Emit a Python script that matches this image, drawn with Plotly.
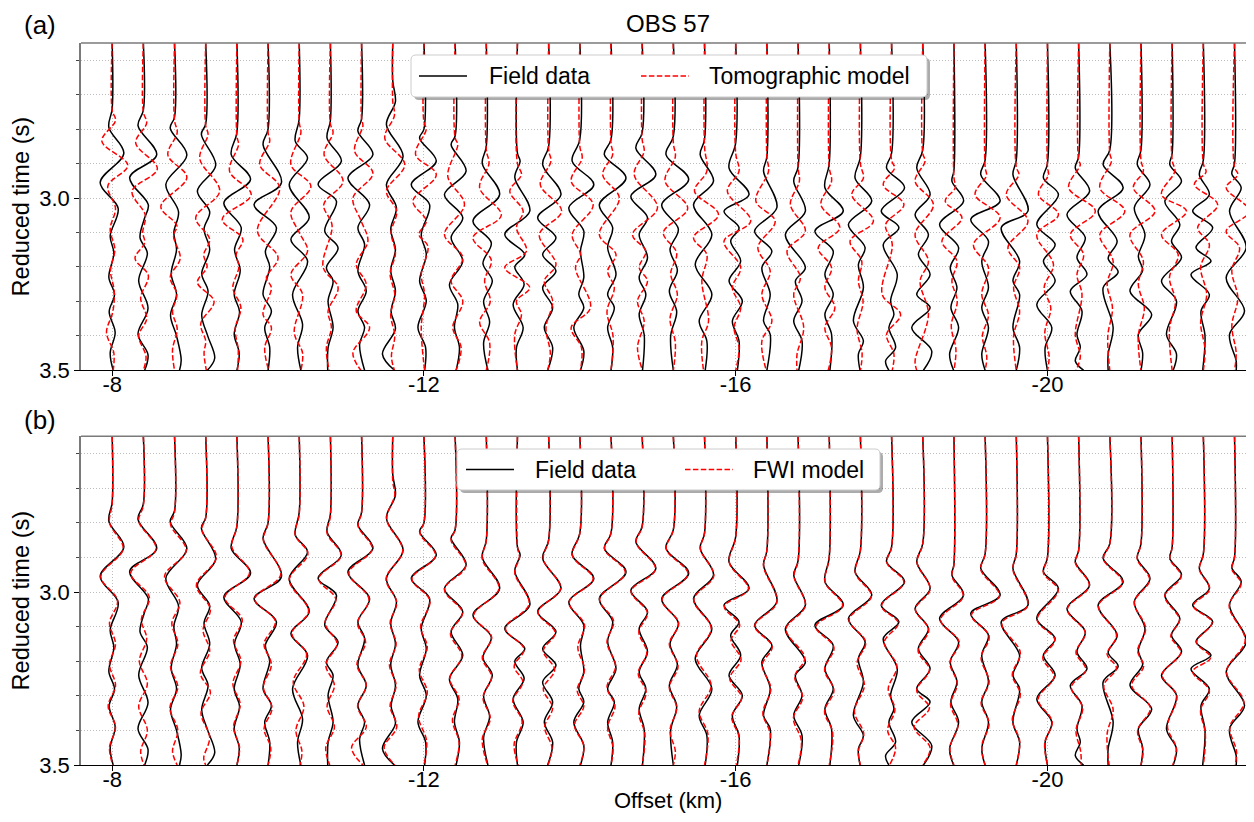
import plotly.graph_objects as go

# ---------------- data ----------------
OFFSETS_KM = [-8.0, -8.4, -8.8, -9.2, -9.6, -10.0, -10.4, -10.8, -11.2, -11.6,
              -12.0, -12.4, -12.8, -13.2, -13.6, -14.0, -14.4, -14.8, -15.2, -15.6,
              -16.0, -16.4, -16.8, -17.2, -17.6, -18.0, -18.4, -18.8, -19.2, -19.6,
              -20.0, -20.4, -20.8, -21.2, -21.6, -22.0, -22.4]

X_TICKS = [-8, -12, -16, -20]
X_TICK_LABELS = ["-8", "-12", "-16", "-20"]
Y_TICKS = [3.0, 3.5]
Y_TICK_LABELS = ["3.0", "3.5"]

LEGEND_A = ["Field data", "Tomographic model"]
LEGEND_B = ["Field data", "FWI model"]

# picked waveform extrema per trace: [reduced time (s), amplitude (arb. units)]
FIELD = [
 [[2.74,0],[2.795,-10],[2.87,35],[2.955,-36],[3.03,18],[3.11,-6],[3.16,5],[3.23,-10],[3.28,7],[3.33,-9],[3.39,9],[3.45,-6],[3.5,3]],
 [[2.745,0],[2.79,-16],[2.875,40],[2.94,-41],[3.02,15],[3.06,3],[3.115,-10],[3.16,12],[3.24,-14],[3.32,14],[3.395,-16],[3.455,14],[3.5,4]],
 [[2.765,0],[2.797,-13],[2.875,37],[2.96,-26],[3.04,12],[3.1,-2],[3.15,6],[3.22,-10],[3.28,6],[3.34,-12],[3.4,6],[3.47,20],[3.5,15]],
 [[2.785,0],[2.815,-13],[2.905,30],[2.98,-25],[3.04,12],[3.09,-5],[3.15,12],[3.22,-12],[3.27,7],[3.34,-12],[3.4,6],[3.465,27],[3.5,5]],
 [[2.81,0],[2.874,-17],[2.946,41],[3.014,-39],[3.086,13],[3.15,-7],[3.21,10],[3.28,-8],[3.33,8],[3.395,-8],[3.45,7],[3.5,0]],
 [[2.8,0],[2.845,-15],[2.956,40],[3.019,-42],[3.086,25],[3.154,-8],[3.2,5],[3.28,-15],[3.328,10],[3.376,-10],[3.434,5],[3.5,0]],
 [[2.77,0],[2.835,-12],[2.884,25],[2.961,-30],[3.057,30],[3.12,-25],[3.183,25],[3.28,-20],[3.367,10],[3.434,-5],[3.5,5]],
 [[2.775,0],[2.826,-10],[2.893,33],[2.96,-37],[3.009,18],[3.096,-17],[3.145,23],[3.202,-12],[3.241,8],[3.299,-7],[3.376,8],[3.434,-7],[3.5,-8]],
 [[2.77,0],[2.806,-11],[2.874,34],[2.942,-41],[3.019,24],[3.086,-11],[3.135,9],[3.212,-11],[3.27,14],[3.328,-11],[3.376,9],[3.425,-6],[3.5,9]],
 [[2.66,0],[2.72,8],[2.787,-19],[2.879,31],[2.961,-19],[3.028,11],[3.09,-6],[3.15,8],[3.21,-6],[3.27,8],[3.33,-5],[3.38,8],[3.453,-31],[3.5,5]],
 [[2.8,0],[2.826,-13],[2.893,37],[2.961,-38],[3.019,17],[3.106,-8],[3.164,7],[3.241,-13],[3.299,7],[3.376,-18],[3.434,5],[3.5,2]],
 [[2.82,0],[2.845,-12],[2.922,33],[2.99,-32],[3.057,23],[3.115,-12],[3.183,23],[3.251,-17],[3.309,8],[3.376,-2],[3.434,13],[3.5,3]],
 [[2.85,0],[2.9,-12],[2.99,40],[3.067,-40],[3.13,15],[3.19,-10],[3.24,18],[3.3,-8],[3.36,10],[3.42,-8],[3.5,5]],
 [[2.87,0],[2.893,8],[2.94,-8],[3.038,37],[3.106,-38],[3.164,22],[3.2,-8],[3.25,20],[3.309,-13],[3.376,17],[3.434,-3],[3.5,0]],
 [[2.85,0],[2.903,-18],[2.99,37],[3.057,-33],[3.115,22],[3.164,-18],[3.212,22],[3.26,-18],[3.318,12],[3.376,-13],[3.434,12],[3.5,-3]],
 [[2.83,0],[2.893,-23],[2.961,42],[3.028,-33],[3.096,12],[3.154,2],[3.231,12],[3.28,-3],[3.318,12],[3.376,-18],[3.444,12],[3.5,2]],
 [[2.83,0],[2.874,-20],[2.942,45],[3.019,-35],[3.086,5],[3.144,-10],[3.222,15],[3.28,-10],[3.318,10],[3.376,-10],[3.434,5],[3.5,0]],
 [[2.81,0],[2.855,-19],[2.932,41],[2.995,-34],[3.057,16],[3.106,-9],[3.173,16],[3.231,-9],[3.28,11],[3.338,-9],[3.396,6],[3.5,1]],
 [[2.82,0],[2.874,-22],[2.946,46],[3.02,-35],[3.09,15],[3.15,-10],[3.21,12],[3.27,-12],[3.33,10],[3.4,-8],[3.5,0]],
 [[2.83,0],[2.874,-13],[2.951,27],[3.019,-33],[3.106,22],[3.193,-28],[3.28,22],[3.357,-16],[3.415,7],[3.5,2]],
 [[2.84,0],[2.913,-20],[2.99,40],[3.038,-35],[3.086,10],[3.125,-15],[3.183,15],[3.241,-20],[3.299,20],[3.357,-10],[3.415,10],[3.5,5]],
 [[2.88,0],[2.922,-10],[3.028,30],[3.096,-37],[3.154,15],[3.202,-15],[3.28,10],[3.357,-10],[3.396,10],[3.5,0]],
 [[2.91,0],[2.951,-13],[3.038,22],[3.106,-38],[3.202,22],[3.241,-8],[3.299,12],[3.357,-13],[3.415,12],[3.5,2]],
 [[2.9,0],[2.97,-13],[3.038,42],[3.096,-43],[3.154,12],[3.222,-13],[3.28,12],[3.338,-13],[3.396,7],[3.5,2]],
 [[2.88,0],[2.942,-16],[3.009,34],[3.077,-36],[3.144,14],[3.193,-6],[3.26,9],[3.357,-21],[3.415,9],[3.453,-6],[3.5,-1]],
 [[2.87,0],[2.913,-15],[2.97,39],[3.038,-31],[3.086,22],[3.135,-25],[3.222,17],[3.299,-3],[3.338,7],[3.376,-8],[3.434,12],[3.473,-18],[3.5,-8]],
 [[2.86,0],[2.913,-18],[2.99,22],[3.048,-23],[3.106,17],[3.164,-13],[3.222,22],[3.28,-18],[3.318,22],[3.376,-33],[3.444,27],[3.5,2]],
 [[2.92,0],[2.951,-6],[3.009,29],[3.077,-43],[3.144,14],[3.202,-11],[3.26,9],[3.318,-9],[3.376,14],[3.453,-13],[3.5,-1]],
 [[2.89,0],[2.932,-13],[3.009,45],[3.062,-43],[3.125,10],[3.183,-10],[3.26,10],[3.318,-10],[3.376,10],[3.453,-10],[3.5,0]],
 [[2.89,0],[2.932,-10],[3.038,35],[3.086,-45],[3.183,10],[3.241,-10],[3.28,10],[3.376,-10],[3.434,10],[3.5,0]],
 [[2.9,0],[2.942,-12],[2.99,33],[3.077,-32],[3.135,23],[3.183,-12],[3.241,23],[3.309,-32],[3.376,13],[3.434,-7],[3.5,0]],
 [[2.88,0],[2.913,-10],[2.98,33],[3.048,-35],[3.115,20],[3.173,-5],[3.222,25],[3.27,-25],[3.328,10],[3.396,-5],[3.434,5],[3.473,-10],[3.5,15]],
 [[2.86,0],[2.903,-20],[2.97,40],[3.038,-35],[3.125,22],[3.175,-5],[3.215,25],[3.26,-20],[3.376,10],[3.453,-5],[3.5,-5]],
 [[2.86,0],[2.903,-11],[2.961,27],[3.028,-20],[3.106,12],[3.17,-8],[3.21,5],[3.27,-33],[3.338,32],[3.396,-8],[3.45,5],[3.5,0]],
 [[2.87,0],[2.903,-7],[2.951,28],[3.009,-22],[3.077,23],[3.125,-2],[3.173,28],[3.241,-32],[3.299,13],[3.396,-17],[3.453,13],[3.5,3]],
 [[2.89,0],[2.932,-12],[2.99,18],[3.038,-32],[3.086,28],[3.144,-22],[3.183,23],[3.222,-37],[3.28,18],[3.328,-7],[3.4,5],[3.5,-2]],
 [[2.9,0],[2.93,-8],[2.97,20],[3.038,-15],[3.144,35],[3.231,-25],[3.328,30],[3.396,-15],[3.473,5],[3.5,5]],
]

TOMO = [
 [[2.745,0],[2.775,10],[2.835,-31],[2.905,47],[2.965,-13],[3.03,10],[3.09,-6],[3.15,8],[3.21,-5],[3.27,6],[3.33,2],[3.39,-17],[3.45,5],[3.5,3]],
 [[2.75,0],[2.782,10],[2.84,-23],[2.915,42],[2.98,-34],[3.05,6],[3.1,-2],[3.13,4],[3.175,-25],[3.225,15],[3.29,-8],[3.35,10],[3.4,-14],[3.46,8],[3.5,0]],
 [[2.775,0],[2.81,8],[2.875,-20],[2.94,37],[3.025,-41],[3.08,7],[3.11,-3],[3.175,17],[3.23,-13],[3.28,7],[3.33,-6],[3.38,8],[3.44,-6],[3.5,0]],
 [[2.79,0],[2.815,7],[2.885,-18],[2.98,42],[3.057,-30],[3.12,12],[3.165,-6],[3.2,4],[3.245,-25],[3.3,25],[3.365,-15],[3.415,0],[3.45,-5],[3.5,2]],
 [[2.82,0],[2.845,5],[2.922,-22],[2.99,43],[3.062,-44],[3.12,18],[3.164,-2],[3.2,6],[3.26,-12],[3.318,12],[3.38,-5],[3.44,4],[3.5,2]],
 [[2.81,0],[2.835,5],[2.903,-25],[2.97,35],[3.096,-32],[3.173,30],[3.231,-5],[3.26,10],[3.338,-15],[3.376,10],[3.434,-10],[3.5,2]],
 [[2.78,0],[2.81,5],[2.903,-25],[2.966,35],[3.04,-25],[3.1,0],[3.154,25],[3.222,-25],[3.28,10],[3.39,-15],[3.45,10],[3.5,5]],
 [[2.785,0],[2.81,8],[2.874,-19],[2.951,38],[3.019,-20],[3.08,5],[3.2,-22],[3.26,23],[3.328,-7],[3.376,3],[3.434,-12],[3.5,-4]],
 [[2.77,0],[2.79,4],[2.864,-21],[2.928,34],[3.0,-26],[3.065,-2],[3.125,19],[3.193,-16],[3.251,14],[3.328,-16],[3.376,24],[3.449,-26],[3.5,-2]],
 [[2.72,0],[2.76,5],[2.826,-24],[2.903,36],[2.98,-19],[3.038,12],[3.1,-5],[3.16,8],[3.22,-8],[3.28,6],[3.34,-6],[3.4,6],[3.46,-4],[3.5,5]],
 [[2.78,0],[2.8,7],[2.874,-25],[2.932,37],[3.009,-33],[3.067,7],[3.106,-15],[3.14,12],[3.222,-8],[3.28,2],[3.376,-8],[3.5,2]],
 [[2.825,0],[2.845,8],[2.937,-22],[3.019,28],[3.106,-32],[3.173,23],[3.241,-12],[3.299,23],[3.376,-7],[3.434,18],[3.5,3]],
 [[2.86,0],[2.9,8],[2.97,-20],[3.05,45],[3.115,-40],[3.18,15],[3.24,-5],[3.3,12],[3.36,-20],[3.42,10],[3.5,0]],
 [[2.9,0],[2.932,12],[2.98,-23],[3.038,17],[3.086,-3],[3.154,27],[3.202,-38],[3.26,37],[3.299,-3],[3.338,12],[3.396,-8],[3.5,0]],
 [[2.86,0],[2.893,7],[2.961,-25],[3.038,39],[3.106,-28],[3.193,22],[3.241,-13],[3.299,12],[3.376,-8],[3.45,5],[3.5,-3]],
 [[2.85,0],[2.884,7],[2.951,-26],[3.019,40],[3.106,-23],[3.164,2],[3.202,-13],[3.318,32],[3.376,-26],[3.434,5],[3.5,2]],
 [[2.84,0],[2.874,5],[2.932,-25],[3.0,25],[3.106,-35],[3.164,15],[3.212,-10],[3.26,10],[3.33,-12],[3.4,6],[3.5,0]],
 [[2.83,0],[2.864,6],[2.932,-24],[3.028,46],[3.106,-29],[3.154,11],[3.202,-9],[3.241,16],[3.299,-14],[3.357,6],[3.434,-14],[3.5,1]],
 [[2.84,0],[2.88,6],[2.95,-25],[3.03,43],[3.1,-30],[3.16,10],[3.22,-8],[3.28,12],[3.35,-10],[3.42,6],[3.5,0]],
 [[2.85,0],[2.922,7],[2.98,-30],[3.048,42],[3.115,-33],[3.164,7],[3.241,-8],[3.357,12],[3.415,-8],[3.5,-3]],
 [[2.87,0],[2.922,10],[2.98,-25],[3.067,45],[3.125,-35],[3.202,15],[3.26,-10],[3.318,15],[3.376,-5],[3.434,10],[3.5,0]],
 [[2.88,0],[2.922,5],[3.009,-33],[3.067,25],[3.144,-27],[3.212,10],[3.28,-15],[3.357,15],[3.415,-15],[3.5,-2]],
 [[2.91,0],[2.951,4],[3.019,-23],[3.096,22],[3.154,-33],[3.231,7],[3.28,-13],[3.376,17],[3.453,-3],[3.5,-3]],
 [[2.91,0],[2.951,7],[3.019,-25],[3.086,32],[3.144,-33],[3.202,7],[3.26,-13],[3.318,17],[3.376,-13],[3.434,7],[3.5,-3]],
 [[2.9,0],[2.942,9],[2.99,-26],[3.067,39],[3.125,-31],[3.183,4],[3.241,-6],[3.3,8],[3.38,-10],[3.45,5],[3.5,0]],
 [[2.89,0],[2.913,9],[2.961,-25],[3.019,37],[3.077,-18],[3.135,2],[3.28,-28],[3.338,27],[3.396,-15],[3.453,7],[3.5,2]],
 [[2.87,0],[2.893,7],[2.951,-23],[3.019,32],[3.106,-23],[3.183,17],[3.241,-8],[3.338,17],[3.473,-23],[3.5,-18]],
 [[2.94,0],[2.97,4],[3.009,-26],[3.057,24],[3.125,-36],[3.183,9],[3.241,-6],[3.3,10],[3.37,-8],[3.44,6],[3.5,0]],
 [[2.91,0],[2.935,4],[2.99,-30],[3.057,45],[3.135,-35],[3.202,10],[3.28,-10],[3.34,10],[3.4,-8],[3.46,5],[3.5,0]],
 [[2.91,0],[2.932,8],[2.99,-30],[3.067,35],[3.144,-25],[3.202,10],[3.26,-8],[3.33,10],[3.4,-8],[3.5,0]],
 [[2.91,0],[2.932,3],[2.99,-27],[3.048,33],[3.106,-32],[3.193,18],[3.26,-10],[3.32,10],[3.39,-8],[3.46,5],[3.5,0]],
 [[2.89,0],[2.903,5],[2.97,-30],[3.038,50],[3.106,-25],[3.164,15],[3.222,-5],[3.28,10],[3.396,-10],[3.46,5],[3.5,-8]],
 [[2.87,0],[2.893,5],[2.97,-30],[3.038,45],[3.106,-30],[3.183,10],[3.25,-8],[3.32,8],[3.4,-6],[3.5,0]],
 [[2.89,0],[2.922,7],[2.97,-23],[3.038,42],[3.106,-33],[3.183,7],[3.25,-8],[3.32,10],[3.4,-8],[3.5,0]],
 [[2.89,0],[2.922,8],[2.99,-32],[3.038,43],[3.106,-32],[3.164,18],[3.23,-8],[3.3,10],[3.38,-8],[3.5,0]],
 [[2.9,0],[2.925,8],[2.96,-27],[3.019,43],[3.086,-17],[3.135,18],[3.2,-8],[3.28,10],[3.36,-8],[3.44,5],[3.5,0]],
 [[2.91,0],[2.932,10],[2.97,-25],[3.038,45],[3.096,-25],[3.144,15],[3.21,-8],[3.29,10],[3.37,-8],[3.45,5],[3.5,0]],
]

FWI = [
 [[2.745,0],[2.8,-8],[2.875,33],[2.955,-34],[3.025,16],[3.09,-8],[3.15,10],[3.21,-8],[3.27,10],[3.33,-12],[3.39,10],[3.45,-8],[3.5,2]],
 [[2.75,0],[2.795,-14],[2.875,38],[2.945,-38],[3.015,18],[3.08,-6],[3.135,10],[3.2,-12],[3.265,12],[3.33,-14],[3.4,12],[3.46,-8],[3.5,2]],
 [[2.77,0],[2.805,-12],[2.88,35],[2.955,-30],[3.03,16],[3.09,-8],[3.15,10],[3.215,-12],[3.275,10],[3.335,-14],[3.4,10],[3.46,-6],[3.5,8]],
 [[2.785,0],[2.82,-12],[2.9,32],[2.98,-28],[3.05,14],[3.11,-8],[3.17,12],[3.235,-16],[3.29,14],[3.35,-14],[3.42,12],[3.48,-6],[3.5,0]],
 [[2.81,0],[2.87,-15],[2.945,38],[3.015,-36],[3.08,16],[3.14,-10],[3.2,12],[3.265,-12],[3.325,10],[3.39,-10],[3.45,8],[3.5,0]],
 [[2.8,0],[2.85,-14],[2.95,38],[3.02,-40],[3.085,22],[3.15,-12],[3.21,10],[3.275,-14],[3.335,12],[3.395,-12],[3.45,8],[3.5,0]],
 [[2.775,0],[2.835,-12],[2.89,26],[2.965,-30],[3.055,28],[3.12,-22],[3.18,22],[3.26,-18],[3.33,14],[3.4,-10],[3.46,8],[3.5,2]],
 [[2.78,0],[2.83,-10],[2.895,32],[2.962,-35],[3.02,16],[3.09,-16],[3.15,20],[3.21,-14],[3.27,12],[3.33,-10],[3.39,12],[3.45,-14],[3.5,-2]],
 [[2.77,0],[2.81,-10],[2.876,32],[2.945,-38],[3.02,22],[3.09,-12],[3.145,12],[3.21,-14],[3.27,14],[3.33,-12],[3.39,14],[3.45,-30],[3.5,4]],
 [[2.68,0],[2.72,6],[2.79,-18],[2.88,30],[2.962,-20],[3.03,12],[3.09,-8],[3.15,10],[3.21,-10],[3.27,10],[3.33,-8],[3.39,12],[3.45,-26],[3.5,6]],
 [[2.8,0],[2.83,-12],[2.895,35],[2.962,-36],[3.025,18],[3.1,-10],[3.16,10],[3.225,-14],[3.29,10],[3.36,-16],[3.43,8],[3.5,0]],
 [[2.82,0],[2.85,-12],[2.925,32],[2.993,-32],[3.06,22],[3.12,-14],[3.185,20],[3.25,-16],[3.31,12],[3.37,-8],[3.435,12],[3.5,0]],
 [[2.85,0],[2.905,-12],[2.99,38],[3.068,-38],[3.13,16],[3.19,-12],[3.245,16],[3.305,-10],[3.365,12],[3.425,-12],[3.5,4]],
 [[2.87,0],[2.9,6],[2.945,-8],[3.035,35],[3.105,-36],[3.165,20],[3.215,-10],[3.26,16],[3.315,-14],[3.375,14],[3.44,-10],[3.5,2]],
 [[2.85,0],[2.905,-16],[2.99,36],[3.058,-32],[3.118,20],[3.17,-16],[3.225,18],[3.28,-16],[3.335,12],[3.39,-12],[3.45,10],[3.5,-2]],
 [[2.83,0],[2.895,-22],[2.962,40],[3.03,-32],[3.095,14],[3.16,-6],[3.225,14],[3.285,-8],[3.33,12],[3.385,-16],[3.445,12],[3.5,0]],
 [[2.83,0],[2.876,-19],[2.944,43],[3.02,-34],[3.085,8],[3.145,-12],[3.215,14],[3.275,-12],[3.33,12],[3.39,-10],[3.45,6],[3.5,0]],
 [[2.81,0],[2.857,-18],[2.934,40],[2.998,-33],[3.06,16],[3.115,-10],[3.175,14],[3.235,-12],[3.29,12],[3.35,-10],[3.41,8],[3.5,0]],
 [[2.82,0],[2.876,-21],[2.948,44],[3.022,-34],[3.09,16],[3.15,-12],[3.215,14],[3.275,-12],[3.335,10],[3.4,-10],[3.46,6],[3.5,0]],
 [[2.83,0],[2.876,-12],[2.953,28],[3.022,-32],[3.105,20],[3.185,-24],[3.27,20],[3.345,-16],[3.41,10],[3.5,0]],
 [[2.84,0],[2.915,-19],[2.992,38],[3.042,-34],[3.095,12],[3.14,-14],[3.195,16],[3.25,-18],[3.305,18],[3.36,-12],[3.42,10],[3.5,2]],
 [[2.88,0],[2.925,-10],[3.03,30],[3.098,-36],[3.158,16],[3.21,-14],[3.28,12],[3.35,-12],[3.41,10],[3.5,0]],
 [[2.91,0],[2.955,-12],[3.04,22],[3.108,-36],[3.19,20],[3.245,-10],[3.305,14],[3.365,-14],[3.43,10],[3.5,0]],
 [[2.9,0],[2.972,-12],[3.04,40],[3.1,-40],[3.16,14],[3.225,-14],[3.285,14],[3.345,-14],[3.405,10],[3.5,0]],
 [[2.88,0],[2.945,-15],[3.012,33],[3.08,-34],[3.145,16],[3.205,-10],[3.27,12],[3.345,-18],[3.41,10],[3.46,-6],[3.5,0]],
 [[2.87,0],[2.915,-14],[2.972,37],[3.04,-30],[3.09,20],[3.145,-22],[3.215,16],[3.28,-10],[3.34,10],[3.4,-12],[3.45,12],[3.5,-6]],
 [[2.86,0],[2.915,-17],[2.992,22],[3.05,-22],[3.11,18],[3.17,-14],[3.225,20],[3.285,-18],[3.335,20],[3.39,-26],[3.45,22],[3.5,0]],
 [[2.92,0],[2.955,-6],[3.012,28],[3.08,-40],[3.145,16],[3.205,-12],[3.265,10],[3.325,-10],[3.385,12],[3.45,-12],[3.5,0]],
 [[2.89,0],[2.935,-13],[3.012,43],[3.066,-41],[3.128,12],[3.19,-12],[3.26,12],[3.32,-12],[3.38,12],[3.445,-10],[3.5,0]],
 [[2.89,0],[2.935,-10],[3.04,34],[3.09,-43],[3.175,12],[3.24,-12],[3.295,12],[3.37,-12],[3.43,10],[3.5,0]],
 [[2.9,0],[2.945,-12],[2.995,32],[3.08,-31],[3.138,22],[3.19,-14],[3.245,20],[3.31,-28],[3.375,14],[3.435,-8],[3.5,0]],
 [[2.88,0],[2.915,-10],[2.982,32],[3.05,-34],[3.118,20],[3.175,-8],[3.225,22],[3.275,-22],[3.335,12],[3.4,-8],[3.46,6],[3.5,8]],
 [[2.86,0],[2.905,-19],[2.973,38],[3.04,-34],[3.125,20],[3.18,-8],[3.22,20],[3.27,-18],[3.34,10],[3.41,-8],[3.5,-2]],
 [[2.86,0],[2.905,-11],[2.965,26],[3.03,-20],[3.105,14],[3.17,-10],[3.215,8],[3.27,-28],[3.335,28],[3.4,-10],[3.46,6],[3.5,0]],
 [[2.87,0],[2.905,-7],[2.955,27],[3.012,-22],[3.08,22],[3.128,-4],[3.175,26],[3.24,-30],[3.3,14],[3.39,-14],[3.45,12],[3.5,2]],
 [[2.89,0],[2.935,-12],[2.992,19],[3.04,-30],[3.088,26],[3.145,-20],[3.19,22],[3.23,-32],[3.285,18],[3.34,-8],[3.41,6],[3.5,0]],
 [[2.9,0],[2.935,-8],[2.975,20],[3.04,-16],[3.14,32],[3.23,-24],[3.32,28],[3.39,-14],[3.46,6],[3.5,2]],
]

T_START = 2.55           # top of record window (s)
AMP_TO_KM = 1.0 / 234.0  # amplitude unit -> offset deflection (km)

FONT = "Liberation Sans, Arial, Helvetica, sans-serif"

# geometry: the page body adds an 8 px offset, so the figure is 8 px smaller
OFF = 8
W, H = 1254 - OFF, 822 - OFF
ML, MR, MT, MB = 81 - OFF, 0, 43 - OFF, 822 - 765
PW, PH = W - ML - MR, H - MT - MB


def px(xw):  # window x pixel -> paper fraction
    return (xw - OFF - ML) / PW


def py(yw):  # window y pixel -> paper fraction
    return (H - MB - (yw - OFF)) / PH


def wiggles(picks_list):
    xs, ys = [], []
    for off, picks in zip(OFFSETS_KM, picks_list):
        xs.append(off)
        ys.append(T_START)
        for t, a in picks:
            # x axis is reversed: positive amplitude plots to the right
            xs.append(off - a * AMP_TO_KM)
            ys.append(t)
        xs.append(None)
        ys.append(None)
    return xs, ys


fig = go.Figure()

black = dict(color="black", width=1.5, shape="spline", smoothing=1.0)
red = dict(color="red", width=1.5, dash="5.5px,2.4px", shape="spline", smoothing=1.0)

for series, line, xa, ya, nm in [(FIELD, black, "x", "y", "Field data"),
                                 (TOMO, red, "x", "y", "Tomographic model"),
                                 (FIELD, black, "x2", "y2", "Field data"),
                                 (FWI, red, "x2", "y2", "FWI model")]:
    x, y = wiggles(series)
    fig.add_trace(go.Scatter(x=x, y=y, mode="lines", line=line, showlegend=False, name=nm,
                             xaxis=xa, yaxis=ya, hoverinfo="skip"))

GRID = "#bdbdbd"
SPINE_SOFT = "#7a7a7a"
xcommon = dict(range=[-7.6, -22.65], tickmode="array", tickvals=X_TICKS, ticktext=X_TICK_LABELS,
               showgrid=True, gridcolor=GRID, griddash="1px,2px", gridwidth=1,
               ticks="outside", ticklen=5, tickcolor="black", showline=True,
               linecolor="black", linewidth=1.3, mirror=False, zeroline=False,
               automargin=False, ticklabelstandoff=-11,
               tickfont=dict(size=22, family=FONT, color="black"))
ycommon = dict(range=[3.5, T_START], tickmode="array", tickvals=Y_TICKS, ticktext=Y_TICK_LABELS,
               showgrid=True, gridcolor=GRID, griddash="1px,2px", gridwidth=1,
               ticks="outside", ticklen=5, tickcolor="black", showline=True,
               linecolor=SPINE_SOFT, linewidth=1.6, zeroline=False, automargin=False,
               minor=dict(dtick=0.1, tick0=2.6, showgrid=True, gridcolor=GRID,
                          griddash="1px,2px", gridwidth=1, ticks="outside", ticklen=3,
                          tickcolor="#444444"),
               tickfont=dict(size=22, family=FONT, color="black"),
               title=dict(text="Reduced time (s)", font=dict(size=23.6, family=FONT, color="black"),
                          standoff=5))

fig.update_layout(
    width=W, height=H,
    margin=dict(l=ML, r=MR, t=MT, b=MB, autoexpand=False),
    paper_bgcolor="white", plot_bgcolor="white",
    font=dict(family=FONT, size=22, color="black"),
    showlegend=False,
    xaxis=dict(domain=[0, 1], anchor="y", **xcommon),
    yaxis=dict(domain=[py(370.3), 1.0], anchor="x", **ycommon),
    xaxis2=dict(domain=[0, 1], anchor="y2", **xcommon),
    yaxis2=dict(domain=[0.0, py(436.3)], anchor="x2", **ycommon),
)

# top frame lines of both panels (soft, as in the reference)
for xa, ya in [("x", "y"), ("x2", "y2")]:
    fig.add_shape(type="line", x0=0, x1=1, y0=1, y1=1, xref=f"{xa} domain", yref=f"{ya} domain",
                  line=dict(color=SPINE_SOFT, width=1.6), layer="above")

# x-axis title, main title and panel labels
fig.add_annotation(text="Offset (km)", x=0.5, y=py(800), xref="paper", yref="paper",
                   xanchor="center", yanchor="middle", showarrow=False,
                   font=dict(size=22, family=FONT, color="black"))
fig.add_annotation(text="OBS 57", x=0.5, y=py(23), xref="paper", yref="paper",
                   xanchor="center", yanchor="middle", showarrow=False,
                   font=dict(size=24, family=FONT, color="black"))
for lab, yp in [("(a)", 25), ("(b)", 420)]:
    fig.add_annotation(text=lab, x=px(40), y=py(yp), xref="paper", yref="paper",
                       xanchor="center", yanchor="middle", showarrow=False,
                       font=dict(size=26, family=FONT, color="black"))


# legends (matplotlib-style framed boxes with shadow)
def rounded_path(x0, y0, x1, y1, r):
    pts = [("M", x0 + r, y0), ("L", x1 - r, y0), ("Q", x1, y0, x1, y0 + r),
           ("L", x1, y1 - r), ("Q", x1, y1, x1 - r, y1), ("L", x0 + r, y1),
           ("Q", x0, y1, x0, y1 - r), ("L", x0, y0 + r), ("Q", x0, y0, x0 + r, y0)]
    out = []
    for p in pts:
        cmd, coords = p[0], p[1:]
        s = []
        for i in range(0, len(coords), 2):
            s.append(f"{px(coords[i]):.5f},{py(coords[i + 1]):.5f}")
        out.append(cmd + " ".join(s))
    return " ".join(out) + " Z"


def draw_legend(box, labels, sample_x, text_x):
    x0, y0, x1, y1 = box
    yc = (y0 + y1) / 2
    fig.add_shape(type="path", path=rounded_path(x0 + 3, y0 + 3, x1 + 3, y1 + 3, 5),
                  xref="paper", yref="paper", fillcolor="rgba(0,0,0,0.33)",
                  line=dict(width=0), layer="above")
    fig.add_shape(type="path", path=rounded_path(x0, y0, x1, y1, 5),
                  xref="paper", yref="paper", fillcolor="white",
                  line=dict(color="#cccccc", width=1), layer="above")
    styles = [dict(color="black", width=1.5), dict(color="red", width=1.5, dash="5.5px,2.4px")]
    for lab, sx, tx, st in zip(labels, sample_x, text_x, styles):
        fig.add_shape(type="line", x0=px(sx), x1=px(sx + 48), y0=py(yc), y1=py(yc),
                      xref="paper", yref="paper", line=st, layer="above")
        fig.add_annotation(text=lab, x=px(tx), y=py(yc), xref="paper", yref="paper",
                           xanchor="left", yanchor="middle", showarrow=False,
                           font=dict(size=23, family=FONT, color="black"))


draw_legend((411, 55, 927, 97), LEGEND_A, (419, 641), (487, 707))
draw_legend((457, 449, 880, 490), LEGEND_B, (466, 685), (533, 751))

fig.write_html("out.html")
